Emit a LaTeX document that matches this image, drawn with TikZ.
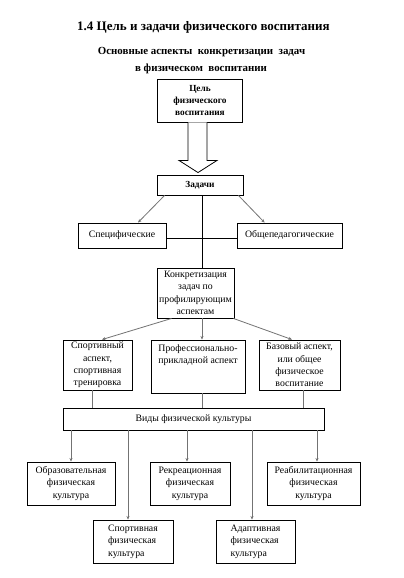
\documentclass[tikz,border=0pt]{standalone}
\usepackage{fontspec}
\setmainfont{Liberation Serif}
\usetikzlibrary{arrows.meta}
\begin{document}
\begin{tikzpicture}[x=1pt,y=-1pt,
  box/.style={draw=black,line width=0.9pt,inner sep=0pt,align=center,font=\fontsize{9.8}{12.4}\selectfont},
  bbox/.style={box,font=\bfseries\fontsize{9.3}{11.8}\selectfont},
  conn/.style={draw=black!55,line width=0.8pt},
  arr/.style={conn,-{Stealth[length=3.5pt,width=3pt,fill=black!85]}},
  ttl/.style={inner sep=0pt,font=\bfseries\fontsize{13}{15}\selectfont},
  sub/.style={inner sep=0pt,font=\bfseries\fontsize{10.9}{12}\selectfont}]
\useasboundingbox[fill=white] (0,0) rectangle (404,578);
\node[ttl] (title) at (203.5,27) {1.4 Цель и задачи физического воспитания};
\node[sub] (sub1) at (201.5,52) {Основные аспекты\ \ конкретизации\ \ задач};
\node[sub] (sub2) at (201,69) {в физическом\ \ воспитании};

\node[bbox,minimum width=85,minimum height=43] (cel) at (200,100.5) {Цель\\физического\\воспитания};
\node[bbox,minimum width=86,minimum height=20] (zad) at (200,185) {Задачи};
\node[box,minimum width=88,minimum height=25] (spec) at (122,235.5) {Специфические};
\node[box,minimum width=105,minimum height=25] (obsh) at (289.5,235.5) {Общепедагогические};
\node[box,minimum width=77,minimum height=50] (konk) at (195.5,293) {Конкретизация\\задач по\\профилирующим\\аспектам};
\node[box,minimum width=69,minimum height=50] (sport) at (97.5,365) {Спортивный\\аспект,\\спортивная\\тренировка};
\node[box,minimum width=94,minimum height=53] (prof) at (198,366.5) {};
\node[inner sep=0pt,align=center,anchor=north,font=\fontsize{9.8}{12.4}\selectfont] (proft) at ([yshift=-5]prof.north) {Профессионально-\\прикладной аспект};
\node[box,minimum width=81,minimum height=50] (baz) at (299.5,365) {Базовый аспект,\\или общее\\физическое\\воспитание};
\node[box,minimum width=261,minimum height=22] (vid) at (193.5,419) {Виды физической культуры};
\node[box,minimum width=88,minimum height=43] (obr) at (71,483.5) {Образовательная\\физическая\\культура};
\node[box,minimum width=80,minimum height=43] (rekr) at (190,483.5) {Рекреационная\\физическая\\культура};
\node[box,minimum width=93,minimum height=43] (reab) at (313.5,483.5) {Реабилитационная\\физическая\\культура};
\node[box,minimum width=80,minimum height=43] (sportk) at (133,541.5) {\begin{tabular}{@{}l@{}}Спортивная\\физическая\\культура\end{tabular}};
\node[box,minimum width=79,minimum height=43] (adap) at (255.5,541.5) {\begin{tabular}{@{}l@{}}Адаптивная\\физическая\\культура\end{tabular}};

% hollow arrow
\draw[line width=0.8pt,fill=white]
  ([xshift=-12]cel.south) -- ([xshift=-12,yshift=-38]cel.south) -- ([xshift=-21,yshift=-38]cel.south)
  -- ([xshift=-2,yshift=2]zad.north) -- ([xshift=17,yshift=-38]cel.south) -- ([xshift=7,yshift=-38]cel.south)
  -- ([xshift=7]cel.south);

\draw[line width=0.8pt] (zad.south -| 202,0) -- (konk.north -| 202,0);
\draw[arr] ([xshift=8]zad.south west) -- ([xshift=16]spec.north);
\draw[arr] ([xshift=-5]zad.south east) -- ([xshift=28]obsh.north west);
\draw[line width=0.8pt] ([yshift=-2.5]spec.east) -- ([yshift=-2.5]spec.east -| obsh.west);

\draw[arr] ([xshift=15]konk.south west) -- ([xshift=4.5]sport.north);
\draw[arr] (konk.south -| 202,0) -- ([xshift=4]prof.north);
\draw[arr] ([xshift=-1]konk.south east) -- ([xshift=-7.5]baz.north);

\draw[conn] ([xshift=-5.5]sport.south) -- ([xshift=-5.5]sport.south |- vid.north);
\draw[conn] ([xshift=4]prof.south) -- ([xshift=4]prof.south |- vid.north);
\draw[conn] ([xshift=3.5]baz.south) -- ([xshift=3.5]baz.south |- vid.north);

\draw[arr] (obr.north |- vid.south) -- (obr.north);
\draw[arr] ([xshift=-5]sportk.north |- vid.south) -- ([xshift=-5]sportk.north);
\draw[arr] ([xshift=-3]rekr.north |- vid.south) -- ([xshift=-3]rekr.north);
\draw[arr] ([xshift=-3.5]adap.north |- vid.south) -- ([xshift=-3.5]adap.north);
\draw[arr] ([xshift=3.5]reab.north |- vid.south) -- ([xshift=3.5]reab.north);
\end{tikzpicture}
\end{document}
